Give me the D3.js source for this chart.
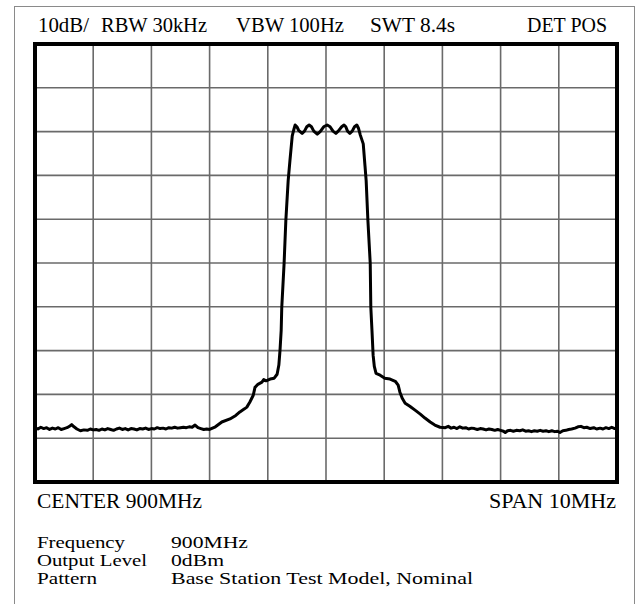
<!DOCTYPE html>
<html><head><meta charset="utf-8">
<script src="https://cdn.jsdelivr.net/npm/d3@7"></script>
<style>
html,body{margin:0;padding:0;background:#fff;}
svg{display:block;}
</style></head>
<body>
<script>
// ---- data (frequency MHz, level dB relative to reference level at top) ----
const leftNoise = [[895.00,-87.6],[895.05,-87.9],[895.10,-87.5],[895.15,-87.8],[895.20,-87.6],[895.25,-88.0],[895.30,-87.7],[895.35,-87.9],[895.40,-87.6],[895.45,-88.0],[895.50,-87.8],[895.55,-87.6],[895.60,-87.2],[895.63,-86.9],[895.67,-87.4],[895.72,-87.9],[895.78,-88.3],[895.84,-88.1],[895.90,-88.2],[895.95,-87.9],[896.00,-88.1],[896.05,-88.0],[896.10,-88.2],[896.15,-87.9],[896.20,-88.1],[896.25,-87.8],[896.30,-88.0],[896.35,-88.2],[896.40,-87.9],[896.45,-87.7],[896.50,-88.0],[896.55,-87.8],[896.60,-88.1],[896.65,-87.8],[896.70,-87.9],[896.75,-88.1],[896.80,-87.8],[896.85,-87.9],[896.90,-87.7],[896.95,-88.0],[897.00,-87.8],[897.05,-87.9],[897.10,-87.6],[897.15,-87.8],[897.20,-87.7],[897.25,-87.9],[897.30,-87.6],[897.35,-87.7],[897.40,-87.5],[897.45,-87.7],[897.50,-87.6],[897.55,-87.5],[897.60,-87.6],[897.65,-87.4],[897.70,-87.5],[897.75,-87.0],[897.80,-87.6],[897.85,-87.8],[897.90,-88.0],[897.95,-87.9]];
const leftSkirt = [[898.00,-88.0],[898.10,-87.4],[898.21,-86.3],[898.35,-85.6],[898.45,-84.8],[898.52,-84.0],[898.60,-83.3],[898.64,-82.9],[898.69,-81.8],[898.75,-80.2],[898.78,-78.4],[898.83,-77.7],[898.90,-77.2],[898.93,-76.6],[898.97,-76.9],[899.04,-76.5],[899.11,-76.3],[899.16,-75.4],[899.19,-73.3],[899.21,-69.9],[899.23,-65.4],[899.24,-60.1],[899.28,-50.1],[899.31,-40.3],[899.35,-31.2],[899.38,-26.7],[899.42,-21.0],[899.45,-19.4]];
const channel = [[899.47,-18.5],[899.50,-18.9],[899.53,-19.7],[899.59,-20.4],[899.63,-19.9],[899.67,-18.9],[899.71,-18.5],[899.75,-18.9],[899.79,-19.9],[899.85,-20.6],[899.90,-20.0],[899.96,-18.9],[900.02,-18.5],[900.07,-18.9],[900.12,-19.9],[900.17,-20.4],[900.21,-19.9],[900.27,-18.9],[900.31,-18.5],[900.34,-18.9],[900.37,-19.9],[900.41,-20.4],[900.45,-19.9],[900.49,-18.9],[900.53,-18.5],[900.56,-19.3],[900.59,-20.8],[900.64,-22.8]];
const rightSkirt = [[900.67,-27.8],[900.69,-31.2],[900.72,-40.3],[900.76,-50.1],[900.77,-60.1],[900.79,-65.4],[900.81,-71.1],[900.83,-73.6],[900.86,-75.2],[900.93,-75.6],[901.01,-76.3],[901.10,-76.5],[901.19,-77.0],[901.24,-77.9],[901.27,-79.5],[901.31,-80.9],[901.36,-82.0],[901.44,-82.7],[901.53,-83.6],[901.62,-84.5],[901.70,-85.4],[901.79,-86.3],[901.87,-87.0],[901.96,-87.5]];
const rightNoise = [[902.05,-87.6],[902.10,-87.3],[902.15,-87.7],[902.20,-87.5],[902.25,-87.8],[902.30,-87.4],[902.35,-87.7],[902.40,-87.6],[902.45,-87.9],[902.50,-87.7],[902.55,-87.8],[902.60,-88.0],[902.65,-87.8],[902.70,-87.9],[902.75,-88.1],[902.80,-87.9],[902.85,-88.0],[902.90,-88.2],[902.95,-88.0],[903.00,-88.2],[903.05,-88.4],[903.08,-88.7],[903.12,-88.3],[903.17,-88.2],[903.22,-88.4],[903.27,-88.2],[903.33,-88.3],[903.38,-88.1],[903.43,-88.4],[903.48,-88.3],[903.53,-88.5],[903.58,-88.3],[903.63,-88.4],[903.68,-88.2],[903.73,-88.4],[903.78,-88.3],[903.83,-88.5],[903.88,-88.3],[903.93,-88.5],[903.98,-88.4],[904.02,-88.7],[904.07,-88.3],[904.12,-88.2],[904.17,-88.0],[904.22,-87.9],[904.28,-87.7],[904.33,-87.4],[904.38,-87.3],[904.43,-87.6],[904.48,-87.5],[904.54,-87.8],[904.60,-87.6],[904.65,-87.9],[904.71,-87.7],[904.76,-87.9],[904.81,-87.6],[904.86,-87.8],[904.91,-87.5],[904.96,-87.8],[905.00,-87.6]];

const freqDomain = [895, 905];   // CENTER 900MHz, SPAN 10MHz
const levelDomain = [0, -100];   // 10 dB/div, 10 divisions

const headerLabels = ["10dB/", "RBW 30kHz", "VBW 100Hz", "SWT 8.4s", "DET POS"];
const footerLeft = "CENTER 900MHz";
const footerRight = "SPAN 10MHz";
const infoNames = ["Frequency", "Output Level", "Pattern"];
const infoValues = ["900MHz", "0dBm", "Base Station Test Model, Nominal"];

// ---- layout ----
const FONT = "'Liberation Serif', 'Times New Roman', Tinos, 'DejaVu Serif', serif";
const W = 639, H = 604;
const svg = d3.select("body").append("svg").attr("width", W).attr("height", H)
  .style("font-family", FONT);

const x = d3.scaleLinear().domain(freqDomain).range([35, 617]);
const y = d3.scaleLinear().domain(levelDomain).range([44, 482]);

// outer border
svg.append("rect").attr("x", 14.5).attr("y", 6.5).attr("width", 620).attr("height", 620)
  .attr("fill", "none").attr("stroke", "#8a8a8a").attr("stroke-width", 1);

// grid
const g = svg.append("g");
g.selectAll("line.v").data(x.ticks(10).slice(1, -1)).join("line")
  .attr("x1", d => x(d)).attr("x2", d => x(d)).attr("y1", y(levelDomain[0])).attr("y2", y(levelDomain[1]))
  .attr("stroke", "#6a6a6a").attr("stroke-width", 1.6);
g.selectAll("line.h").data(y.ticks(10).slice(1, -1)).join("line")
  .attr("y1", d => y(d)).attr("y2", d => y(d)).attr("x1", x(freqDomain[0])).attr("x2", x(freqDomain[1]))
  .attr("stroke", "#6a6a6a").attr("stroke-width", 1.6);

// trace
const trace = [].concat(leftNoise, leftSkirt, channel, rightSkirt, rightNoise);
const line = d3.line().x(d => x(d[0])).y(d => y(d[1]));
svg.append("path").datum(trace).attr("d", line)
  .attr("fill", "none").attr("stroke", "#000").attr("stroke-width", 3)
  .attr("stroke-linejoin", "round").attr("stroke-linecap", "round");

// frame
svg.append("rect").attr("x", x(freqDomain[0])).attr("y", y(levelDomain[0]))
  .attr("width", x(freqDomain[1]) - x(freqDomain[0])).attr("height", y(levelDomain[1]) - y(levelDomain[0]))
  .attr("fill", "none").attr("stroke", "#000").attr("stroke-width", 4);

function txt(sel) {
  return sel.attr("font-family", FONT).attr("fill", "#000").attr("lengthAdjust", "spacingAndGlyphs");
}

// header text
const headerX = [38, 101, 236, 370, 527];
const headerW = [51, 106, 108, 85, 80];
txt(svg.selectAll("text.hdr").data(headerLabels).join("text").attr("class", "hdr"))
  .attr("x", (d, i) => headerX[i]).attr("y", 32)
  .attr("font-size", 20)
  .attr("textLength", (d, i) => headerW[i])
  .text(d => d);

// footer
txt(svg.append("text")).attr("x", 37).attr("y", 508).attr("font-size", 20)
  .attr("textLength", 165).text(footerLeft);
txt(svg.append("text")).attr("x", 489).attr("y", 508).attr("font-size", 20)
  .attr("textLength", 127).text(footerRight);

// info block
const infoNameW = [88, 110, 60];
const infoValW = [77, 53, 302];
const infoY = [548, 566, 584];
txt(svg.selectAll("text.iname").data(infoNames).join("text").attr("class", "iname"))
  .attr("x", 37).attr("y", (d, i) => infoY[i]).attr("font-size", 17)
  .attr("textLength", (d, i) => infoNameW[i])
  .text(d => d);
txt(svg.selectAll("text.ival").data(infoValues).join("text").attr("class", "ival"))
  .attr("x", 171).attr("y", (d, i) => infoY[i]).attr("font-size", 17)
  .attr("textLength", (d, i) => infoValW[i])
  .text(d => d);
</script>
</body></html>
